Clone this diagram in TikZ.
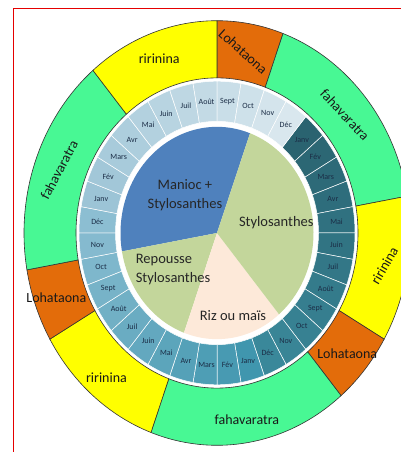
\documentclass[tikz,border=0pt]{standalone}
\usepackage{fontspec}
\setmainfont{Carlito}
\definecolor{seasongreen}{RGB}{72,248,148}
\definecolor{seasonyellow}{RGB}{255,255,0}
\definecolor{seasonorange}{RGB}{227,108,10}
\definecolor{cropblue}{RGB}{79,129,189}
\definecolor{cropolive}{RGB}{195,214,155}
\definecolor{croppink}{RGB}{253,233,217}
\definecolor{monthtealA}{RGB}{42,99,112}
\definecolor{monthtealB}{RGB}{58,136,154}
\definecolor{monthblueA}{RGB}{64,150,174}
\definecolor{monthblueB}{RGB}{140,190,210}
\definecolor{monthskyA}{RGB}{156,196,214}
\definecolor{monthskyB}{RGB}{217,231,238}
\definecolor{monthtext}{RGB}{27,45,70}
\tikzset{
  season/.style={draw=black!80,line width=0.6pt},
  seasonlabel/.style={font=\fontsize{14}{16}\selectfont,text=black!90},
  monthlabel/.style={font=\fontsize{8}{9}\selectfont,text=monthtext,inner sep=0pt},
  croplabel/.style={font=\fontsize{14.5}{19}\selectfont,align=center,text=black!85}
}
% ring piece: start angle, end angle, inner radius, outer radius, style
\newcommand{\ringpart}[5]{\path[#5] (#1:#3) arc[start angle=#1,end angle=#2,radius=#3] -- (#2:#4) arc[start angle=#2,end angle=#1,radius=#4] -- cycle;}

\begin{document}
\begin{tikzpicture}[x=1pt,y=1pt]
\useasboundingbox (0,0) rectangle (401,452);
\clip (0,0) rectangle (401,452);
% Red frame
\draw[red!90!black,line width=1pt] (13,0) -- (13,443.7) -- (401,443.7);
\begin{scope}[shift={(217,219)},yscale=1.1]
% Seasons ring
\ringpart{90}{70}{141}{193}{season,fill=seasonorange}
\ringpart{70}{10}{141}{193}{season,fill=seasongreen}
\ringpart{10}{-30}{141}{193}{season,fill=seasonyellow}
\ringpart{-30}{-50}{141}{193}{season,fill=seasonorange}
\ringpart{-50}{-110}{141}{193}{season,fill=seasongreen}
\ringpart{-110}{-150}{141}{193}{season,fill=seasonyellow}
\ringpart{210}{190}{141}{193}{season,fill=seasonorange}
\ringpart{190}{130}{141}{193}{season,fill=seasongreen}
\ringpart{130}{90}{141}{193}{season,fill=seasonyellow}
% Months ring
\foreach \g/\ca/\cb in {0/monthtealA/monthtealB,1/monthblueA/monthblueB,2/monthskyA/monthskyB}{
  \foreach \m [count=\j from 0] in {Janv,Fév,Mars,Avr,Mai,Juin,Juil,Août,Sept,Oct,Nov,Déc}{
    \pgfmathsetmacro\a{50-120*\g-10*\j}
    \pgfmathsetmacro\b{\a-10}
    \pgfmathsetmacro\c{\a-5}
    \pgfmathtruncatemacro\p{100-100*\j/11}
    \ringpart{\a}{\b}{101.5}{138}{fill=\ca!\p!\cb,draw=white,line width=0.5pt}
    \node[monthlabel] (m\g-\j) at (\c:120) {\m};
  }
}
% Crops pie
\fill[cropblue] (0,0) -- (70:96.5) arc[start angle=70,end angle=190,radius=96.5] -- cycle;
\fill[cropolive] (0,0) -- (190:96.5) arc[start angle=190,end angle=250,radius=96.5] -- cycle;
\fill[croppink] (0,0) -- (250:96.5) arc[start angle=250,end angle=310,radius=96.5] -- cycle;
\fill[cropolive] (0,0) -- (-50:96.5) arc[start angle=-50,end angle=70,radius=96.5] -- cycle;
% Season labels
\node[seasonlabel] (rtop) at (110:169) {ririnina};
\node[seasonlabel,rotate=-42] (ltop) at (81:167) {Lohataona};
\node[seasonlabel,rotate=-47] (ftopright) at (40:167) {fahavaratra};
\node[seasonlabel,rotate=60] (rright) at (-10:170) {ririnina};
\node[seasonlabel] (lright) at (-40:170) {Lohataona};
\node[seasonlabel] (fbottom) at (-80:172) {fahavaratra};
\node[seasonlabel] (rbottomleft) at (230:172) {ririnina};
\node[seasonlabel] (lleft) at (200:171) {Lohataona};
\node[seasonlabel,rotate=62] (fleft) at (160:168) {fahavaratra};
% Crop labels
\node[croplabel] (manioc) at (133:47) {Manioc +\\Stylosanthes};
\node[croplabel] (stylo) at (9:60) {Stylosanthes};
\node[croplabel,align=left] (repousse) at (217:55) {Repousse\\Stylosanthes};
\node[croplabel] (riz) at (-78:77) {Riz ou maïs};
\end{scope}
\end{tikzpicture}
\end{document}
